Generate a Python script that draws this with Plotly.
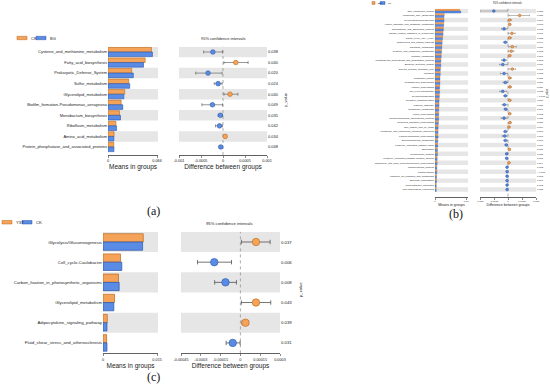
import plotly.graph_objects as go

W, H = 550, 384
FONT = "Liberation Sans, Arial, sans-serif"
SERIF = "Liberation Serif, Times New Roman, serif"
ORANGE, ORANGE_EDGE = "#F6A35A", "#B8671C"
BLUE, BLUE_EDGE = "#5A8CE6", "#2A55A8"
BAND = "#E6E6E6"
AXC = "#3A3A3A"
TXT = "#222222"

# ---------------- panel (a) ----------------
a_groups = ["CK", "BG"]
a_labels = ["Cysteine_and_methionine_metabolism", "Fatty_acid_biosynthesis",
            "Prokaryotic_Defense_System", "Sulfur_metabolism", "Glycerolipid_metabolism",
            "Biofilm_formation-Pseudomonas_aeruginosa", "Monobactam_biosynthesis",
            "Riboflavin_metabolism", "Amino_acid_metabolism",
            "Protein_phosphatase_and_associated_proteins"]
a_mean1 = [0.0585, 0.0500, 0.0319, 0.0279, 0.0226, 0.0177, 0.0155, 0.0106, 0.0082, 0.0078]
a_mean2 = [0.0598, 0.0478, 0.0341, 0.0292, 0.0213, 0.0199, 0.0168, 0.0115, 0.0079, 0.0080]
a_diff = [-0.00023, 0.00029, -0.00034, -0.00011, 0.00016, -0.00024, -0.00006, -0.00008, 0.00005, -0.00005]
a_ci_low = [-0.00044, 0.00002, -0.00062, -0.00020, 0.00002, -0.00048, -0.00011, -0.00017, 0.00002, -0.00009]
a_ci_high = [-0.00001, 0.00057, -0.00002, -0.00002, 0.00034, -0.00001, -0.00001, -0.00001, 0.00008, -0.00001]
a_pvals = ["0.038", "0.040", "0.020", "0.024", "0.040", "0.049", "0.035", "0.042", "0.034", "0.048"]
a_mean_ticks = [0, 0.066]
a_mean_ticktext = ["0", "0.066"]
a_diff_ticks = [-0.001, -0.0005, 0, 0.0005, 0.001]
a_diff_ticktext = ["-0.001", "-0.0005", "0", "0.0005", "0.001"]

# ---------------- panel (b) ----------------
b_groups = ["BT1", "CK"]
b_labels = ["Two_component_system", "Messenger_RNA_Biogenesis", "Glycolysis/Gluconeogenesis",
            "Alanine_aspartate_and_glutamate_metabolism", "Chromosome_and_associated_proteins",
            "Carbon_fixation_pathways_in_prokaryotes", "Citrate_cycle_(TCA_cycle)",
            "Chaperones_and_folding_catalysts", "Galactose_metabolism",
            "Cysteine_and_methionine_metabolism", "Methane_metabolism",
            "Peptidoglycan_biosynthesis_and_degradation_proteins", "Bacterial_secretion_system",
            "General_function_prediction_only", "Transport", "Translation_factors",
            "Peptidoglycan_biosynthesis", "Arginine_biosynthesis", "Cell_cycle-Caulobacter",
            "Glycosyltransferases", "Oxidative_phosphorylation", "Flagellar_assembly",
            "Glutathione_metabolism", "Lysine_biosynthesis",
            "Lipopolysaccharide_biosynthesis_proteins", "Terpenoid_backbone_biosynthesis",
            "One_carbon_pool_by_folate", "Membrane_and_intracellular_structural_molecules",
            "Lipopolysaccharide_biosynthesis", "Selenocompound_metabolism",
            "Longevity_regulating_pathway-worm", "Sporulation", "Cytoskeleton_proteins",
            "Longevity_regulating_pathway-multiple_species",
            "Ubiquinone_and_other_terpenoid-quinone_biosynthesis", "Photosynthesis_proteins",
            "Photosynthesis", "Inorganic_ion_transport_and_metabolism", "Benzoate_degradation",
            "Plant-pathogen_interaction", "Non-homologous_end-joining"]
b_mean1 = [0.079, 0.030, 0.029, 0.028, 0.027, 0.026, 0.025, 0.023, 0.022, 0.021,
           0.020, 0.019, 0.018, 0.018, 0.017, 0.016, 0.016, 0.015, 0.014, 0.014,
           0.013, 0.013, 0.012, 0.012, 0.011, 0.011, 0.010, 0.010, 0.009, 0.009,
           0.008, 0.008, 0.008, 0.007, 0.007, 0.006, 0.006, 0.005, 0.005, 0.004, 0.004]
b_mean2 = [0.083, 0.029, 0.029, 0.028, 0.027, 0.026, 0.024, 0.023, 0.022, 0.021,
           0.020, 0.019, 0.019, 0.017, 0.017, 0.016, 0.016, 0.015, 0.015, 0.014,
           0.013, 0.013, 0.012, 0.012, 0.012, 0.011, 0.010, 0.010, 0.010, 0.009,
           0.009, 0.008, 0.008, 0.007, 0.007, 0.006, 0.006, 0.005, 0.005, 0.004, 0.004]
b_diff = [-0.00152, 0.00124, 0.00018, 0.00018, -0.00042, 0.00042, 0.00018, -0.00028, 0.00046, 0.00035,
          0.00018, -0.00042, -0.00056, 0.00046, -0.00042, 0.00018, -0.00028, 0.00021, -0.00056, -0.00028,
          0.00018, -0.00039, -0.00025, 0.00018, -0.00042, 0.00021, 0.00010, -0.00028, -0.00035, -0.00028,
          -0.00018, 0.00014, -0.00014, -0.00014, 0.00010, -0.00010, -0.00010, -0.00010, -0.00010, -0.00010,
          -0.00010]
b_ci_low = [-0.00300, 0.00010, 0.00004, 0.00004, -0.00070, 0.00007, 0.00004, -0.00050, 0.00007, 0.00007,
            0.00004, -0.00070, -0.00090, 0.00010, -0.00080, 0.00004, -0.00053, 0.00007, -0.00088, -0.00046,
            0.00004, -0.00064, -0.00042, 0.00004, -0.00074, 0.00007, 0.00003, -0.00046, -0.00064, -0.00046,
            -0.00032, 0.00004, -0.00025, -0.00025, 0.00003, -0.00020, -0.00018, -0.00018, -0.00018, -0.00018,
            -0.00018]
b_ci_high = [-0.00007, 0.00230, 0.00035, 0.00032, -0.00010, 0.00078, 0.00035, -0.00007, 0.00090, 0.00064,
             0.00032, -0.00010, -0.00007, 0.00080, -0.00007, 0.00035, -0.00007, 0.00035, -0.00014, -0.00007,
             0.00032, -0.00010, -0.00007, 0.00032, -0.00010, 0.00035, 0.00020, -0.00007, -0.00010, -0.00007,
             -0.00004, 0.00025, -0.00004, -0.00004, 0.00020, -0.00003, -0.00003, -0.00003, -0.00002, -0.00002,
             -0.00002]
b_pvals = ["0.038", "0.030", "0.016", "0.008", "0.005", "0.007", "0.023", "0.049", "0.036", "0.012",
           "0.010", "0.003", "0.011", "0.017", "0.003", "0.030", "0.036", "0.029", "0.023", "< 0.001",
           "0.036", "0.028", "0.016", "0.013", "0.021", "0.030", "0.009", "0.010", "0.001", "0.018",
           "0.006", "0.027", "0.038", "0.007", "0.004", "0.002", "< 0.001", "0.003", "0.017", "0.002",
           "0.038"]
b_mean_ticks = [0, 0.1]
b_mean_ticktext = ["0", "0.10"]
b_diff_ticks = [-0.003, -0.0015, 0, 0.0015, 0.003]
b_diff_ticktext = ["-0.003", "-0.0015", "0", "0.0015", "0.003"]

# ---------------- panel (c) ----------------
c_groups = ["Y37", "CK"]
c_labels = ["Glycolysis/Gluconeogenesis", "Cell_cycle-Caulobacter",
            "Carbon_fixation_in_photosynthetic_organisms", "Glycerolipid_metabolism",
            "Adipocytokine_signaling_pathway", "Fluid_shear_stress_and_atherosclerosis"]
c_mean1 = [0.01116, 0.00485, 0.00430, 0.00320, 0.00119, 0.00100]
c_mean2 = [0.01098, 0.00521, 0.00448, 0.00300, 0.00110, 0.00110]
c_diff = [0.000118, -0.000198, -0.000113, 0.000118, 0.000038, -0.000058]
c_ci_low = [0.0000075, -0.000325, -0.000195, 0.0000075, 0.000012, -0.000108]
c_ci_high = [0.000225, -0.0000675, -0.000030, 0.000230, 0.000062, -0.000002]
c_pvals = ["0.037", "0.006", "0.008", "0.043", "0.039", "0.031"]
c_mean_ticks = [0, 0.015]
c_mean_ticktext = ["0", "0.015"]
c_diff_ticks = [-0.00045, -0.0003, -0.00015, 0, 0.00015, 0.0003]
c_diff_ticktext = ["-0.00045", "-0.0003", "-0.00015", "0", "0.00015", "0.0003"]


def fx(x):
    return x / W


def fy(y):
    return 1 - y / H


panels = [
    dict(groups=a_groups, labels=a_labels, m1=a_mean1, m2=a_mean2, d=a_diff, lo=a_ci_low, hi=a_ci_high,
         p=a_pvals, mt=a_mean_ticks, mtt=a_mean_ticktext, dt=a_diff_ticks, dtt=a_diff_ticktext,
         bar_x=(108, 158), bar_range=[0, 0.0673], diff_x=(179, 267), diff_range=[-0.001, 0.001],
         y=(46.7, 155), yr=10.76, bw=0.44, lw=0.6, ms=4.6, eth=0.6, ew=1.5,
         fs_lab=4.0, fs_tick=3.8, fs_title=6.5, fs_ci=4.0,
         leg=dict(y=(36.3, 39.7), o=(17, 27), b=(36, 46), to=28.5, tb=47.5),
         ci_xy=(223, 38), pv_xy=(285, 100), tag="(a)", tag_xy=(153, 211)),
    dict(groups=b_groups, labels=b_labels, m1=b_mean1, m2=b_mean2, d=b_diff, lo=b_ci_low, hi=b_ci_high,
         p=b_pvals, mt=b_mean_ticks, mtt=b_mean_ticktext, dt=b_diff_ticks, dtt=b_diff_ticktext,
         bar_x=(435, 468), bar_range=[0, 0.106], diff_x=(480, 536), diff_range=[-0.003, 0.003],
         y=(8.8, 196.7), yr=42.6, bw=0.45, lw=0.3, ms=2.6, eth=0.4, ew=0.8,
         fs_lab=2.4, fs_tick=2.4, fs_title=3.6, fs_ci=2.6,
         leg=dict(y=(1.6, 4.4), o=(372, 375), b=(380, 385), to=375.5, tb=386),
         ci_xy=(508, 3), pv_xy=(547, 93), tag="(b)", tag_xy=(456, 214)),
    dict(groups=c_groups, labels=c_labels, m1=c_mean1, m2=c_mean2, d=c_diff, lo=c_ci_low, hi=c_ci_high,
         p=c_pvals, mt=c_mean_ticks, mtt=c_mean_ticktext, dt=c_diff_ticks, dtt=c_diff_ticktext,
         bar_x=(103, 158), bar_range=[0, 0.01525], diff_x=(181, 280), diff_range=[-0.00045, 0.0003],
         y=(231.9, 353.4), yr=6.52, bw=0.41, lw=0.7, ms=7.5, eth=0.8, ew=2.2,
         fs_lab=4.3, fs_tick=3.8, fs_title=6.5, fs_ci=4.2,
         leg=dict(y=(220.5, 224), o=(2, 12), b=(22, 32), to=13.5, tb=33.5),
         ci_xy=(230, 223), pv_xy=(300, 290), tag="(c)", tag_xy=(153, 377)),
]

fig = go.Figure()
layout = dict(width=W, height=H, margin=dict(l=0, r=0, t=0, b=0), paper_bgcolor="white",
              plot_bgcolor="white", barmode="overlay", showlegend=False, hovermode=False,
              font=dict(family=FONT, color=TXT), shapes=[], annotations=[])

for k, P in enumerate(panels):
    nb, nd = 2 * k + 1, 2 * k + 2
    xb = "x" if nb == 1 else f"x{nb}"
    yb = "y" if nb == 1 else f"y{nb}"
    xd, yd = f"x{nd}", f"y{nd}"
    xbn = "xaxis" if nb == 1 else f"xaxis{nb}"
    ybn = "yaxis" if nb == 1 else f"yaxis{nb}"
    xdn, ydn = f"xaxis{nd}", f"yaxis{nd}"
    rows = list(range(1, len(P["labels"]) + 1))

    # alternating bands
    for r in rows:
        if r % 2 == 1:
            for xr, yr_ in ((xb, yb), (xd, yd)):
                layout["shapes"].append(dict(type="rect", xref=f"{xr} domain", x0=0, x1=1, yref=yr_,
                                             y0=r - 0.5, y1=r + 0.5, fillcolor=BAND,
                                             line=dict(width=0), layer="below"))
    # zero dotted line
    layout["shapes"].append(dict(type="line", xref=xd, x0=0, x1=0, yref=f"{yd} domain", y0=0, y1=1,
                                 line=dict(color="#8A8A8A", width=0.7, dash="dot"), layer="below"))

    fig.add_trace(go.Bar(x=P["m1"], y=rows, orientation="h", width=P["bw"], offset=-P["bw"],
                         name=P["groups"][0],
                         marker=dict(color=ORANGE, line=dict(color=ORANGE_EDGE, width=P["lw"])),
                         xaxis=xb, yaxis=yb))
    fig.add_trace(go.Bar(x=P["m2"], y=rows, orientation="h", width=P["bw"], offset=0,
                         name=P["groups"][1],
                         marker=dict(color=BLUE, line=dict(color=BLUE_EDGE, width=P["lw"])),
                         xaxis=xb, yaxis=yb))

    cols = [ORANGE if v > 0 else BLUE for v in P["d"]]
    edges = [ORANGE_EDGE if v > 0 else BLUE_EDGE for v in P["d"]]
    fig.add_trace(go.Scatter(
        x=P["d"], y=rows, mode="markers",
        marker=dict(color=cols, size=P["ms"], line=dict(color=edges, width=0.6)),
        error_x=dict(type="data", symmetric=False,
                     array=[h - v for h, v in zip(P["hi"], P["d"])],
                     arrayminus=[v - l for v, l in zip(P["d"], P["lo"])],
                     color="#505050", thickness=P["eth"], width=P["ew"]),
        xaxis=xd, yaxis=yd))

    ydom = [fy(P["y"][1]), fy(P["y"][0])]
    common_x = dict(showline=True, linecolor=AXC, linewidth=0.8, ticks="outside", ticklen=2,
                    tickwidth=0.6, tickcolor=AXC, showgrid=False, zeroline=False, automargin=False,
                    fixedrange=True, tickfont=dict(size=P["fs_tick"], color=TXT))
    layout[xbn] = dict(domain=[fx(P["bar_x"][0]), fx(P["bar_x"][1])], range=P["bar_range"], anchor=yb,
                       tickvals=P["mt"], ticktext=P["mtt"],
                       title=dict(text="Means in groups", font=dict(size=P["fs_title"]), standoff=0),
                       **common_x)
    layout[xdn] = dict(domain=[fx(P["diff_x"][0]), fx(P["diff_x"][1])], range=P["diff_range"], anchor=yd,
                       tickvals=P["dt"], ticktext=P["dtt"],
                       title=dict(text="Difference between groups", font=dict(size=P["fs_title"]),
                                  standoff=0),
                       **common_x)
    common_y = dict(domain=ydom, range=[P["yr"], 0.5], tickvals=rows, ticks="", showline=False,
                    showgrid=False, zeroline=False, automargin=False, fixedrange=True,
                    tickfont=dict(size=P["fs_lab"], color=TXT))
    layout[ybn] = dict(anchor=xb, ticktext=P["labels"], **common_y)
    layout[ydn] = dict(anchor=xd, side="right", ticktext=P["p"], **common_y)

    # manual legend
    L = P["leg"]
    for (x0, x1), col, ecol, tx, name in ((L["o"], ORANGE, ORANGE_EDGE, L["to"], P["groups"][0]),
                                          (L["b"], BLUE, BLUE_EDGE, L["tb"], P["groups"][1])):
        layout["shapes"].append(dict(type="rect", xref="paper", yref="paper", x0=fx(x0), x1=fx(x1),
                                     y0=fy(L["y"][1]), y1=fy(L["y"][0]), fillcolor=col,
                                     line=dict(color=ecol, width=0.5)))
        layout["annotations"].append(dict(text=name, xref="paper", yref="paper", x=fx(tx),
                                          y=fy((L["y"][0] + L["y"][1]) / 2), xanchor="left",
                                          yanchor="middle", showarrow=False,
                                          font=dict(size=P["fs_lab"], color=TXT)))
    layout["annotations"].append(dict(text="95% confidence intervals", xref="paper", yref="paper",
                                      x=fx(P["ci_xy"][0]), y=fy(P["ci_xy"][1]), xanchor="center",
                                      yanchor="middle", showarrow=False,
                                      font=dict(size=P["fs_ci"], color=TXT)))
    layout["annotations"].append(dict(text="p_value", xref="paper", yref="paper",
                                      x=fx(P["pv_xy"][0]), y=fy(P["pv_xy"][1]), xanchor="center",
                                      yanchor="middle", textangle=-90, showarrow=False,
                                      font=dict(size=P["fs_ci"], color=TXT)))
    layout["annotations"].append(dict(text=P["tag"], xref="paper", yref="paper",
                                      x=fx(P["tag_xy"][0]), y=fy(P["tag_xy"][1]), xanchor="center",
                                      yanchor="middle", showarrow=False,
                                      font=dict(size=12, family=SERIF, color="#111111")))

fig.update_layout(**layout)
fig.write_html("out.html", config={"displayModeBar": False, "staticPlot": True},
               post_script="document.body.style.margin='0';")
